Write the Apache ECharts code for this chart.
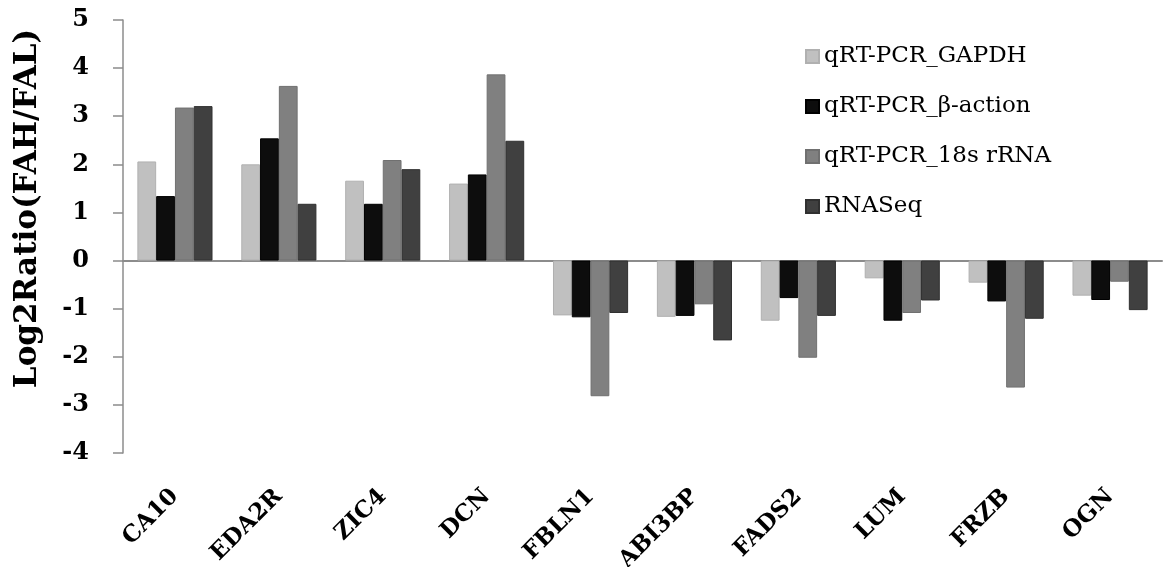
<!DOCTYPE html>
<html>
<head>
<meta charset="utf-8">
<script src="https://cdn.jsdelivr.net/npm/echarts@6/dist/echarts.min.js"></script>
<style>html,body{margin:0;padding:0;background:#fff}#c{width:1166px;height:567px}</style>
</head>
<body>
<div id="c"></div>
<script>
const categories = ['CA10','EDA2R','ZIC4','DCN','FBLN1','ABI3BP','FADS2','LUM','FRZB','OGN'];
const seriesNames = ['qRT-PCR_GAPDH','qRT-PCR_\u03b2-action','qRT-PCR_18s rRNA','RNASeq'];
const gapdh  = [2.06, 2.00, 1.66, 1.60, -1.14, -1.17, -1.25, -0.37, -0.46, -0.73];
const beta   = [1.34, 2.54, 1.18, 1.79, -1.18, -1.15, -0.78, -1.25, -0.85, -0.82];
const s18    = [3.18, 3.63, 2.09, 3.87, -2.82, -0.91, -2.02, -1.09, -2.64, -0.44];
const rnaseq = [3.21, 1.18, 1.90, 2.49, -1.09, -1.66, -1.15, -0.83, -1.21, -1.03];
const yTicks = [-4,-3,-2,-1,0,1,2,3,4,5];

const colors = ['#c0c0c0','#0d0d0d','#808080','#404040'];
const borders = ['#b0b0b0','#000000','#707070','#303030'];
const values = [gapdh, beta, s18, rnaseq];

const chart = echarts.init(document.getElementById('c'), null, {renderer:'canvas'});
chart.setOption({
  animation:false,
  backgroundColor:'#fff',
  grid:{left:123, right:4, top:20, bottom:114, containLabel:false, outerBoundsMode:'none'},
  legend:{
    orient:'vertical', left:800, top:40, itemWidth:13, itemHeight:13, itemGap:27,
    icon:'rect',
    textStyle:{fontFamily:'DejaVu Serif', fontSize:23, color:'#000'},
    data:seriesNames
  },
  xAxis:[{
    type:'category', data:categories, position:'bottom',
    axisLine:{show:false, onZero:false}, axisTick:{show:false},
    axisLabel:{rotate:45, margin:40, interval:0, fontFamily:'DejaVu Serif', fontWeight:'bold', fontSize:23, color:'#000'}
  },{
    type:'category', data:categories, position:'bottom',
    axisLine:{show:true, onZero:true, lineStyle:{color:'#8c8c8c', width:2}},
    axisTick:{show:false}, axisLabel:{show:false}
  }],
  yAxis:{
    type:'value', min:-4, max:5, interval:1,
    name:'Log2Ratio(FAH/FAL)', nameLocation:'middle', nameGap:80, nameRotate:90,
    nameTextStyle:{fontFamily:'DejaVu Serif', fontWeight:'bold', fontSize:31, color:'#000', padding:[0,0,0,56]},
    axisLine:{show:true, lineStyle:{color:'#8c8c8c', width:1.5}},
    axisTick:{show:true, length:10, lineStyle:{color:'#8c8c8c', width:1.5}},
    splitLine:{show:false},
    axisLabel:{margin:34, fontFamily:'DejaVu Serif', fontWeight:'bold', fontSize:24, color:'#000',
      formatter:function(v){return yTicks.indexOf(v)>=0 ? String(v) : '';}}
  },
  series: seriesNames.map((n,i)=>({
    name:n, type:'bar', xAxisIndex:0, data:values[i],
    barGap:'0%', barCategoryGap:'27.7%',
    itemStyle:{color:colors[i], borderColor:borders[i], borderWidth:1}
  }))
});
</script>
</body>
</html>
